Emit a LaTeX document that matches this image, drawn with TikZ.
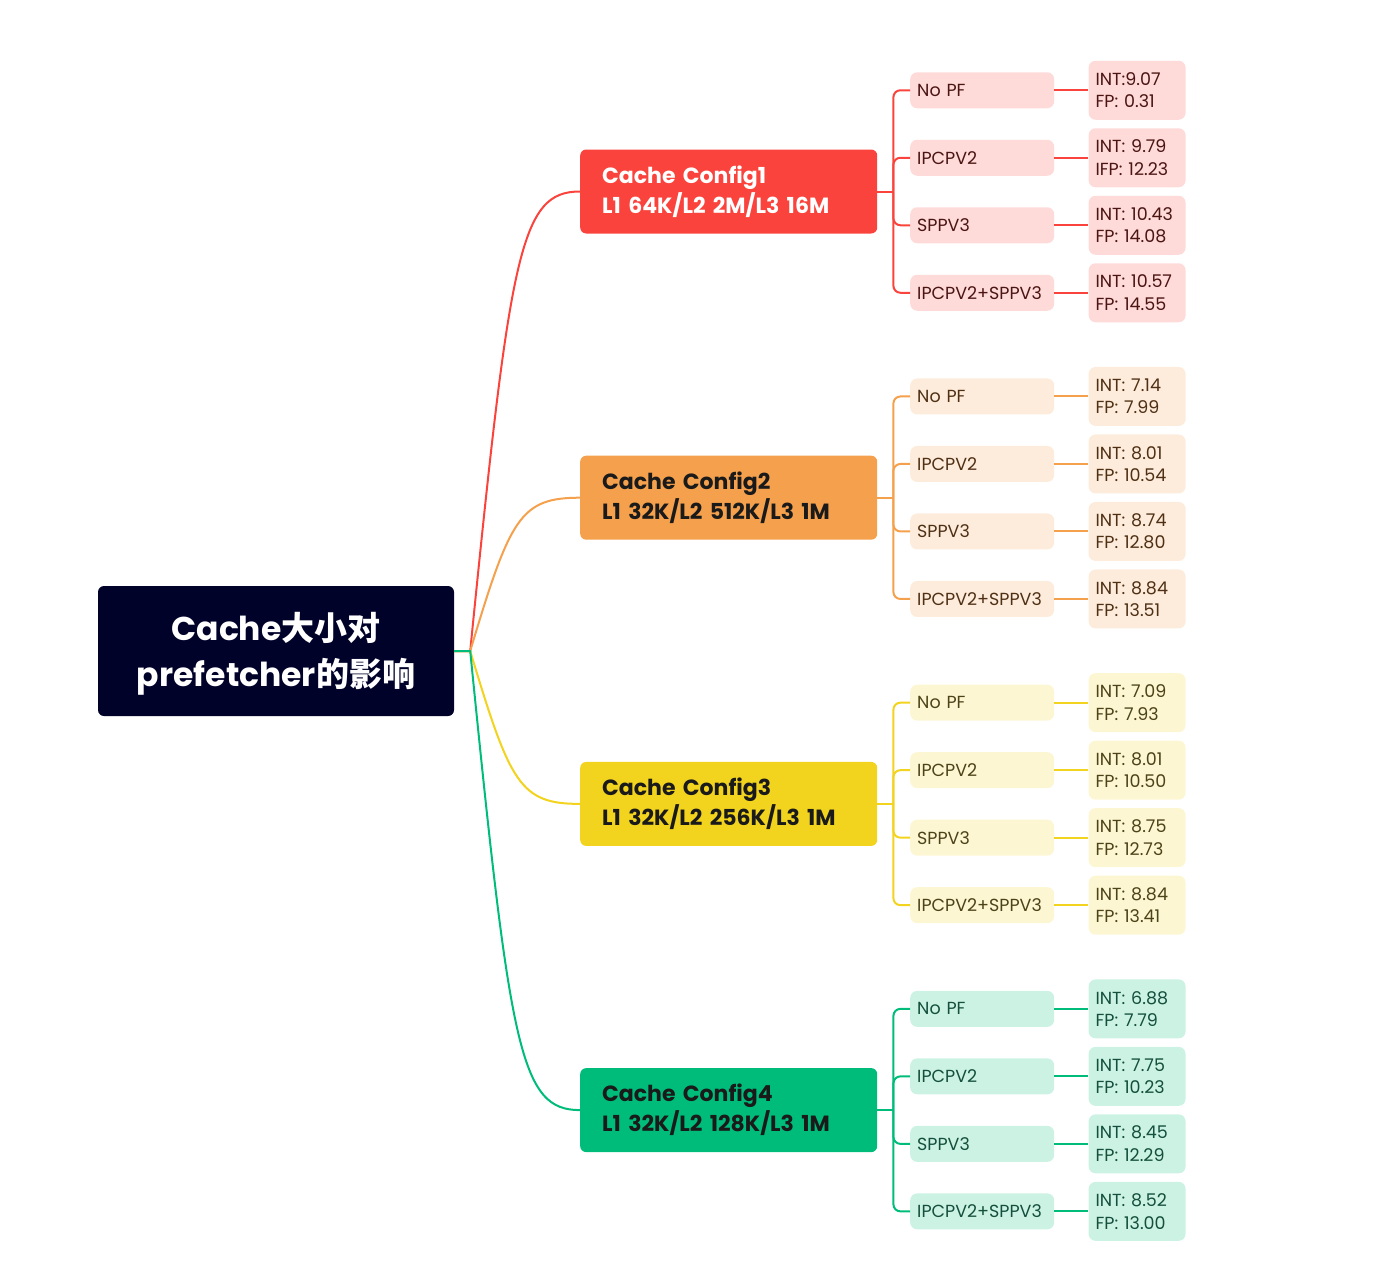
\documentclass[tikz,border=0pt]{standalone}
\usepackage{fontspec}
\setmainfont{Poppins}
\newfontfamily\cjk{Noto Sans CJK SC}
\usepackage{tikz}
\usetikzlibrary{positioning}

\definecolor{rootbg}{HTML}{000229}
\definecolor{cfg1}{HTML}{FA433C}
\definecolor{cfg2}{HTML}{F5A04C}
\definecolor{cfg3}{HTML}{F2D31E}
\definecolor{cfg4}{HTML}{00BC7A}
\definecolor{cfg1lite}{HTML}{FEDAD8}
\definecolor{cfg2lite}{HTML}{FDECDB}
\definecolor{cfg3lite}{HTML}{FCF6D2}
\definecolor{cfg4lite}{HTML}{CCF2E4}
\definecolor{cfg1ink}{HTML}{4A1512}
\definecolor{cfg2ink}{HTML}{4F3015}
\definecolor{cfg3ink}{HTML}{4D4318}
\definecolor{cfg4ink}{HTML}{14503C}
\definecolor{darkink}{HTML}{1A1A1A}

\begin{document}
\begin{tikzpicture}[x=1pt, y=-1pt]
    \tikzstyle{rootbox} = [fill=rootbg, rounded corners=6pt, minimum width=356pt, minimum height=130pt, text=white, align=center, font=\fontsize{33}{46}\selectfont\bfseries];
    \tikzstyle{cfgbox} = [rounded corners=6pt, anchor=west, minimum height=84pt, inner xsep=22pt, text width=253pt, align=left, font=\fontsize{22}{30}\selectfont\bfseries];
    \tikzstyle{pfbox} = [rounded corners=7pt, anchor=west, minimum height=36pt, inner xsep=7pt, text width=130pt, align=left, font=\fontsize{17.5}{22}\selectfont];
    \tikzstyle{valbox} = [rounded corners=7pt, minimum height=59pt, inner xsep=7pt, text width=83pt, align=left, font=\fontsize{17.5}{22.5}\selectfont];
    \tikzstyle{link} = [line width=2pt];
    \useasboundingbox (0,0) rectangle (1387,1277);

    % Nodes
    \node [rootbox, text depth=4pt] (root) at (276,651) {Cache{\cjk\bfseries 大小对}\\prefetcher{\cjk\bfseries 的影响}};
    \foreach \i/\ink/\title/\size in {1/white/Cache Config1/{L1 64K/L2 2M/L3 16M},
                                     2/darkink/Cache Config2/{L1 32K/L2 512K/L3 1M},
                                     3/darkink/Cache Config3/{L1 32K/L2 256K/L3 1M},
                                     4/darkink/Cache Config4/{L1 32K/L2 128K/L3 1M}} {
        \pgfmathsetmacro\cy{191.5+(\i-1)*306.2}
        \node [cfgbox, fill=cfg\i, text=\ink] (cfg\i) at (580,\cy) {\title\\\size};
        % Paths
        \draw [link, cfg\i] (root.east) -- ++(16,0) .. controls +(40,{0.87*(\cy-651)}) and +(-60,0) .. (cfg\i.west);
        \draw [link, cfg\i] (cfg\i.east) -- ++(16,0) coordinate (hub\i);
    }
    \foreach \i/\j/\pf/\int/\fp in {1/1/No PF/INT:9.07/FP: 0.31, 1/2/IPCPV2/INT: 9.79/IFP: 12.23,
                                    1/3/SPPV3/INT: 10.43/FP: 14.08, 1/4/IPCPV2+SPPV3/INT: 10.57/FP: 14.55,
                                    2/1/No PF/INT: 7.14/FP: 7.99, 2/2/IPCPV2/INT: 8.01/FP: 10.54,
                                    2/3/SPPV3/INT: 8.74/FP: 12.80, 2/4/IPCPV2+SPPV3/INT: 8.84/FP: 13.51,
                                    3/1/No PF/INT: 7.09/FP: 7.93, 3/2/IPCPV2/INT: 8.01/FP: 10.50,
                                    3/3/SPPV3/INT: 8.75/FP: 12.73, 3/4/IPCPV2+SPPV3/INT: 8.84/FP: 13.41,
                                    4/1/No PF/INT: 6.88/FP: 7.79, 4/2/IPCPV2/INT: 7.75/FP: 10.23,
                                    4/3/SPPV3/INT: 8.45/FP: 12.29, 4/4/IPCPV2+SPPV3/INT: 8.52/FP: 13.00} {
        \pgfmathsetmacro\py{191.5+(\i-1)*306.2+(\j-2.5)*67.5}
        \node [pfbox, fill=cfg\i lite, text=cfg\i ink] (pf-\i-\j) at (910,\py) {\pf};
        \node [valbox, fill=cfg\i lite, text=cfg\i ink, right=34pt of pf-\i-\j] (val-\i-\j) {\int\\\fp};
        \draw [link, cfg\i, rounded corners=7pt] (hub\i) |- (pf-\i-\j.west);
        \draw [link, cfg\i] (pf-\i-\j) -- (val-\i-\j);
    }
\end{tikzpicture}
\end{document}
